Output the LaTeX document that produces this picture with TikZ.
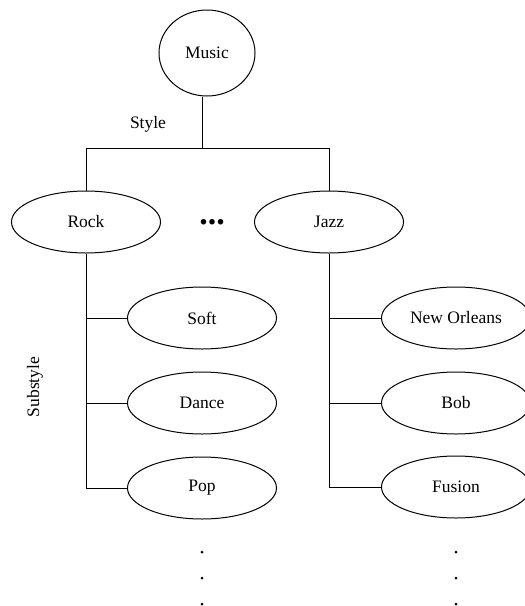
\documentclass[tikz,border=0pt]{standalone}
\usepackage{fontspec}
\setmainfont{Liberation Serif}
\usetikzlibrary{shapes.geometric}
\begin{document}
\begin{tikzpicture}[x=1pt,y=-1pt,
  every node/.style={font=\fontsize{17.5}{20}\selectfont},
  oval/.style={draw, ellipse, minimum width=149pt, minimum height=62pt, inner sep=0pt, line width=1pt},
  link/.style={line width=1pt},
  vdot/.style={circle, fill, inner sep=0pt, minimum size=3pt}]
\useasboundingbox (0,0) rectangle (525,606);
\clip (0,0) rectangle (525,606);

% root
\node[draw, ellipse, minimum width=96pt, minimum height=86pt, inner sep=0pt, line width=1pt] (music) at (207,53) {Music};
\coordinate (hub) at (202,148);
\node (style) at (148,124) {Style};

% styles
\node[oval] (rock) at (86,222) {Rock};
\node[oval] (jazz) at (329,222) {Jazz};
\node (more) at (212,222) {\fontsize{34}{34}\selectfont\bfseries ...};

% substyles of Rock
\node[oval] (soft)  at (202,318) {Soft};
\node[oval] (dance) at (202,403) {Dance};
\node[oval] (pop)   at (202,488) {Pop};

% substyles of Jazz
\node[oval] (neworleans) at (456,318) {New Orleans};
\node[oval] (bob)        at (456,403) {Bob};
\node[oval] (fusion)     at (456,487) {Fusion};

\node[rotate=90] (substyle) at (35,387) {Substyle};

% tree connectors
\draw[link] (hub |- music.south) -- (hub);
\draw[link] (rock.north) -- (rock.north |- hub) -- (jazz.north |- hub) -- (jazz.north);
\draw[link] (rock.south) -- (rock.south |- pop.west) -- (pop.west);
\draw[link] (rock.south |- soft.west) -- (soft.west);
\draw[link] (rock.south |- dance.west) -- (dance.west);
\draw[link] (jazz.south) -- (jazz.south |- fusion.west) -- (fusion.west);
\draw[link] (jazz.south |- neworleans.west) -- (neworleans.west);
\draw[link] (jazz.south |- bob.west) -- (bob.west);

% continuation dots
\foreach \y [count=\i] in {552,578,604} {
  \node[vdot] (rdot\i) at (202,\y) {};
  \node[vdot] (jdot\i) at (456,\y) {};
}
\end{tikzpicture}
\end{document}
